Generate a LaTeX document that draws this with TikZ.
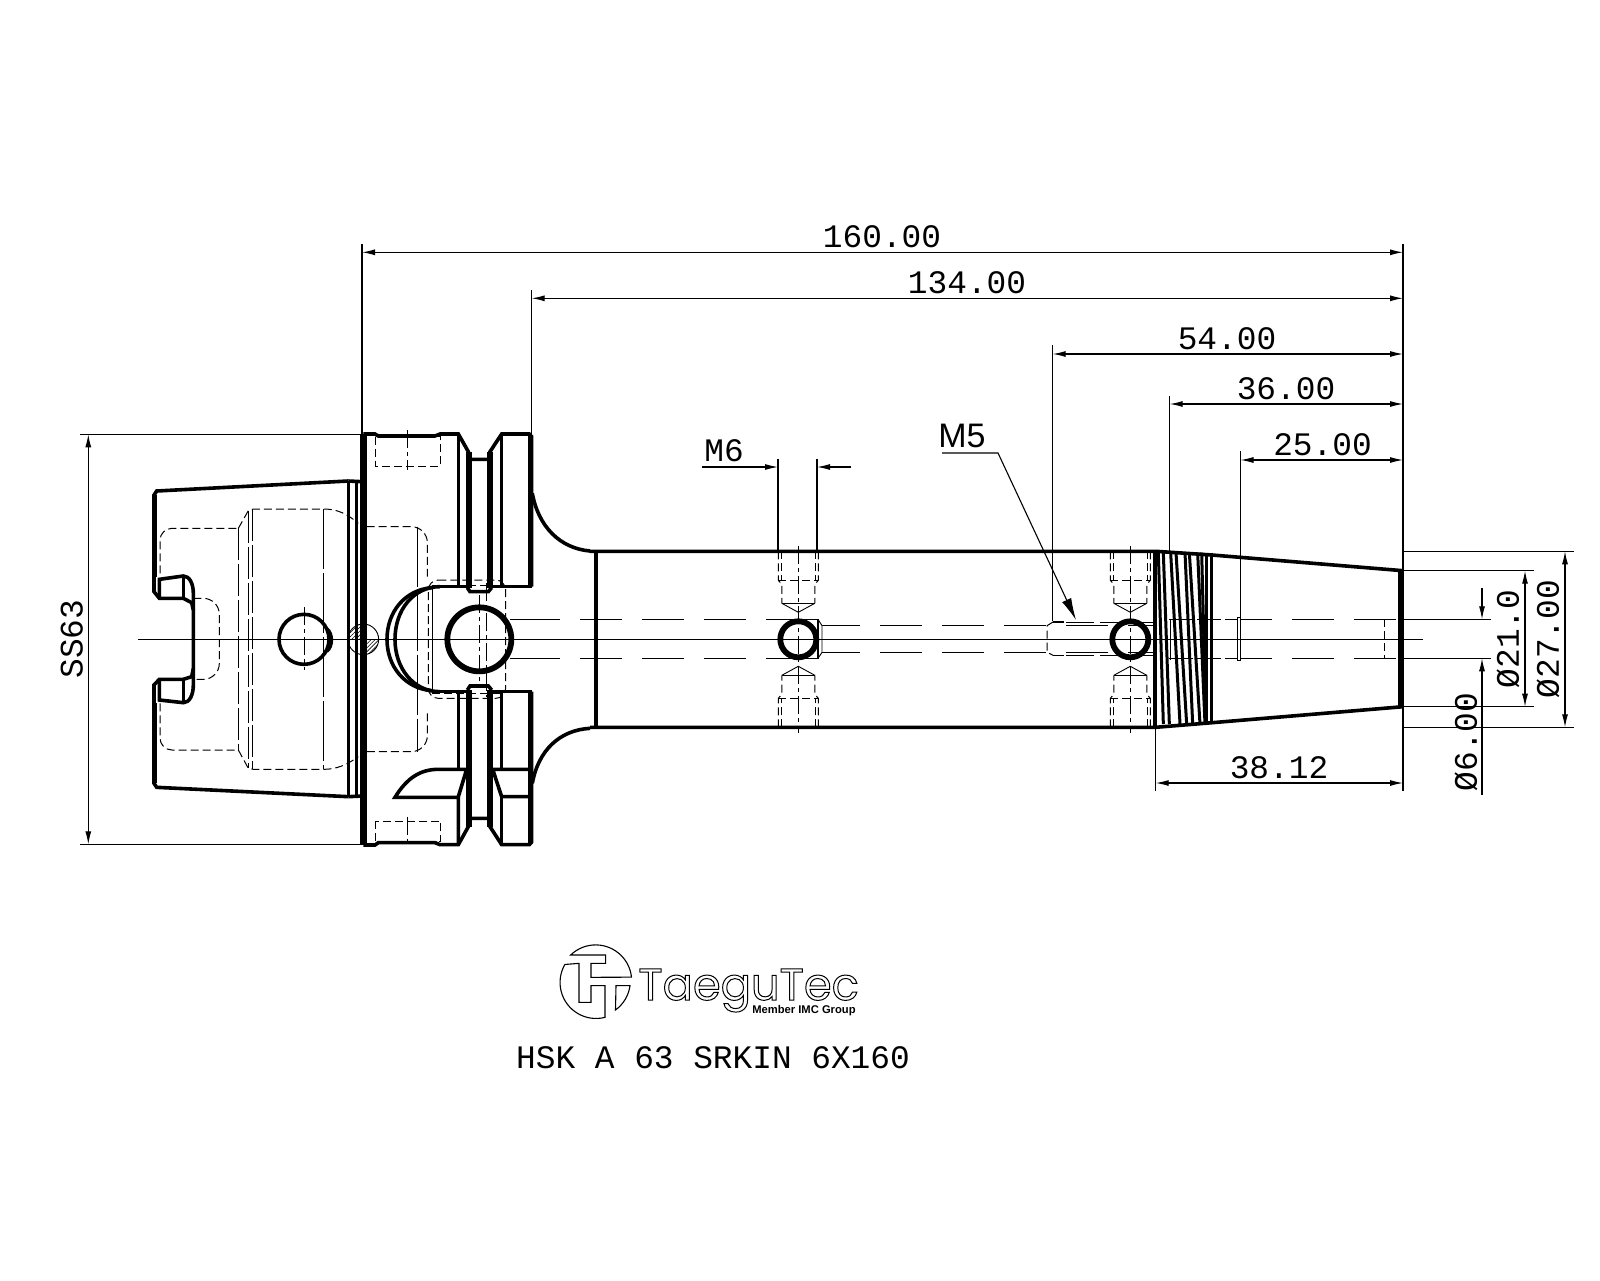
\documentclass[tikz,border=0pt]{standalone}
\usepackage{fontspec}
\setmainfont{Liberation Mono}
\newfontfamily\logofont{Poppins}
\newfontfamily\tagfont{Liberation Sans}
\usetikzlibrary{arrows.meta,patterns.meta}

\tikzset{
    thinline/.style={line width=0.55pt},
    faintline/.style={line width=0.45pt},
    heavyline/.style={line width=1.8pt},
    thickline/.style={line width=2.9pt},
    hiddenline/.style={line width=0.5pt, dash pattern=on 4pt off 2pt},
    longdash/.style={line width=0.55pt, dash pattern=on 21pt off 10pt},
    axisline/.style={line width=0.5pt, dash pattern=on 9pt off 2pt on 2pt off 2pt},
    dimline/.style={line width=0.55pt},
    dimboth/.style={dimline, {Latex[length=6.5pt,width=3pt]}-{Latex[length=6.5pt,width=3pt]}},
    dimend/.style={dimline, -{Latex[length=6.5pt,width=3pt]}},
    dimtext/.style={inner sep=0pt, font=\fontsize{16.4}{18}\selectfont}
}

\begin{document}
\begin{tikzpicture}[x=0.5pt,y=-0.5pt]
    \useasboundingbox (0,0) rectangle (1600,1280);

    \coordinate (L) at (362,252.3);
    \coordinate (R) at (1403,252.3);

    % centre line and bores
    \draw[thinline] (138,639.3) -- (1423,639.3);
    \foreach \by in {619.3,658.3}{
        \draw[longdash] (518,\by) -- (778,\by);
        \draw[longdash, dash phase=5pt] (1240,\by) -- (1403,\by);
        \draw[thinline] (510,\by) -- (518,\by);
        \draw[thinline] (1403,\by) -- (1491,\by);
        \draw[hiddenline, dash pattern=on 12pt off 2pt] (1169,\by) -- (1237,\by);
    }
    \draw[thinline] (778,619.3) -- (818,619.3) -- (818,658.3) -- (778,658.3);
    \draw[faintline] (818,619.3) -- (822,625.7) -- (822,652.3) -- (818,658.3);
    \foreach \by in {625.7,652.3}{
        \draw[longdash, dash phase=2pt] (822,\by) -- (1047,\by);
        \draw[longdash] (1066,\by) -- (1155,\by);
    }
    \draw[hiddenline] (1053,622) -- (1047,625.7) -- (1047,652.3) -- (1053,655.3);
    \draw[thinline] (1053,622) -- (1064,622);
    \draw[thinline] (1053,655.3) -- (1064,655.3);
    \draw[hiddenline, dash pattern=on 14pt off 3pt] (1066,622) -- (1155,622);
    \draw[hiddenline, dash pattern=on 14pt off 3pt] (1066,655.3) -- (1155,655.3);
    \draw[faintline] (1237,617) rectangle (1240,660);
    \draw[hiddenline] (1384,619.3) -- (1384,658.3);

    % radial holes
    \foreach \hx in {798.3,1130.3}{
        \foreach \sy in {1,-1}{
            \begin{scope}[shift={(\hx,639.3)}, yscale=\sy]
                \draw[hiddenline] (-20,-88) -- (-20,-59) -- (-16.5,-55) -- (-16.5,-36);
                \draw[hiddenline] (20,-88) -- (20,-59) -- (16.5,-55) -- (16.5,-36);
                \draw[hiddenline] (-17,-88) -- (-17,-59);
                \draw[hiddenline] (17,-88) -- (17,-59);
                \draw[hiddenline] (-20,-59) -- (20,-59);
                \draw[faintline] (-16.5,-36) -- (16.5,-36);
                \draw[faintline] (-16.5,-36) -- (0,-27) -- (16.5,-36);
            \end{scope}
        }
        \draw[axisline] (\hx,546) -- (\hx,733);
        \draw[thickline] (\hx,639.3) circle (18);
    }

    % spindle body and cone
    \coordinate (CT) at (1403,570.7);
    \coordinate (CB) at (1403,706.7);
    \draw[heavyline] (590,551.3) -- (1155.7,551.3) -- (1212,555) -- (CT);
    \draw[heavyline] (590,727.3) -- (1155.7,727.3) -- (1212,722.7) -- (CB);
    \draw[heavyline] (596,551.3) -- (596,727.3);
    \draw[line width=2.6pt] (1400.5,570.7) -- (1400.5,706.7);
    \begin{scope}[shift={(1130,540)}, scale=1/3]
        \draw[heavyline] (75,35) -- (75,560);
        \foreach \ta/\tb in {85/100,100/118,122/150,138/170,165/188,178/210,203/225,215/228,228/228,243/243}{
            \draw[line width=1.5pt] (\ta,38) -- (\tb,552);
        }
        \draw[faintline] (120,237) -- (120,360);
    \end{scope}

    % holder
    \begin{scope}[shift={(130,420)}, scale=1/3]
        % hidden
        \draw[hiddenline, rounded corners=6pt] (90,460) -- (90,325) -- (325,325);
        \draw[hiddenline, rounded corners=6pt] (90,850) -- (90,990) -- (325,990);
        \draw[hiddenline] (325,325) -- (355,272) -- (370,267) -- (580,267) .. controls (620,267) and (650,280) .. (685,310);
        \draw[hiddenline] (325,990) -- (355,1045) -- (370,1048) -- (580,1048) .. controls (620,1048) and (650,1035) .. (685,1010);
        \draw[hiddenline, dash pattern=on 16pt off 2pt] (325,325) -- (325,990);
        \draw[hiddenline, dash pattern=on 16pt off 2pt] (355,272) -- (355,1045);
        \draw[hiddenline, dash pattern=on 16pt off 2pt] (368,267) -- (368,1048);
        \draw[hiddenline, dash pattern=on 30pt off 2pt] (581,267) -- (581,1048);
        \draw[hiddenline, rounded corners=8pt] (190,535) -- (268,535) -- (268,778) -- (190,778);
        \draw[hiddenline, rounded corners=8pt] (710,320) -- (892,320) -- (892,470);
        \draw[hiddenline, rounded corners=8pt] (892,880) -- (892,995) -- (710,995);
        \draw[hiddenline, dash pattern=on 30pt off 2pt] (862,320) -- (862,995);
        \draw[hiddenline] (737,50) rectangle (932,138);
        \draw[hiddenline] (737,1203) rectangle (932,1265);
        \draw[axisline] (832,30) -- (832,150);
        \draw[axisline] (832,1190) -- (832,1280);
        \draw[hiddenline, rounded corners=5pt] (895,480) -- (1127,480) -- (1127,835) -- (895,835) -- cycle;
        \draw[hiddenline] (907,495) -- (1110,495);
        \draw[hiddenline] (907,820) -- (1110,820);
        \draw[faintline] (907,495) -- (907,820);
        \draw[axisline] (1048,525) -- (1048,790);
        \draw[axisline] (1068,490) -- (1068,830);
        % taper
        \draw[heavyline] (655,183) -- (80,213) -- (72,225) -- (72,515) -- (88,535) -- (160,535) -- (185,548) -- (190,570) -- (190,745) -- (185,770) -- (160,778) -- (88,778) -- (72,795) -- (72,1090) -- (80,1102) -- (655,1130);
        \draw[line width=2.6pt] (74,225) -- (74,470);
        \draw[line width=2.6pt] (74,850) -- (74,1090);
        \draw[heavyline] (88,535) -- (88,478) -- (160,468) .. controls (178,468) and (190,490) .. (190,520) -- (190,570);
        \draw[heavyline] (88,778) -- (88,840) -- (160,848) .. controls (178,848) and (190,826) .. (190,795) -- (190,745);
        \draw[heavyline] (160,468) -- (160,535);
        \draw[heavyline] (160,778) -- (160,848);
        \draw[heavyline] (655,183) -- (655,1130);
        \draw[heavyline] (680,185) -- (680,1128);
        \draw[heavyline] (655,183) -- (695,185);
        \draw[heavyline] (655,1130) -- (695,1128);
        % flange
        \draw[line width=3.5pt] (700,42) -- (700,1275);
        \draw[heavyline] (700,42) -- (735,42) -- (745,48) -- (915,48) -- (930,42) -- (985,42) -- (1015,95) -- (1015,118) -- (1080,118) -- (1080,95) -- (1115,42) -- (1198,42) -- (1205,50) -- (1205,500);
        \draw[heavyline] (700,1275) -- (735,1275) -- (745,1268) -- (915,1268) -- (930,1274) -- (985,1274) -- (1015,1220) -- (1015,1195) -- (1080,1195) -- (1080,1220) -- (1115,1274) -- (1198,1274) -- (1205,1266) -- (1205,815);
        \draw[heavyline] (985,42) -- (985,500);
        \draw[thickline] (1018,95) -- (1018,505);
        \draw[thickline] (1080,95) -- (1080,505);
        \draw[heavyline] (1115,42) -- (1115,500);
        \draw[heavyline] (1198,42) -- (1198,500);
        \draw[heavyline] (930,500) -- (1012,500);
        \draw[heavyline] (1085,500) -- (1205,500);
        \draw[heavyline] (930,815) -- (1012,815);
        \draw[heavyline] (1085,815) -- (1205,815);
        \draw[heavyline] (1012,503) -- (1020,515) -- (1075,515) -- (1085,503);
        \draw[heavyline] (1012,810) -- (1020,798) -- (1075,798) -- (1085,810);
        \draw[thickline] (1018,810) -- (1018,1220);
        \draw[thickline] (1080,810) -- (1080,1220);
        \draw[heavyline] (985,815) -- (985,1048);
        \draw[heavyline] (1115,815) -- (1115,1048);
        \draw[heavyline] (1198,815) -- (1198,1048);
        % slot
        \draw[heavyline] (930,500) .. controls (850,500) and (795,570) .. (795,658) .. controls (795,745) and (850,815) .. (930,815);
        \draw[heavyline] (905,503) .. controls (825,510) and (771,575) .. (771,658) .. controls (771,740) and (825,805) .. (905,812);
        % wedge
        \draw[heavyline] (985,1132) -- (795,1132) .. controls (830,1075) and (870,1048) .. (925,1048) -- (1010,1048) -- (985,1130) -- (985,1274);
        \draw[heavyline] (1200,1048) -- (1088,1048) -- (1115,1130) -- (1200,1130);
        \draw[heavyline] (1115,1130) -- (1115,1274);
        \draw[heavyline] (1198,1048) -- (1198,1274);
        % holes
        \draw[heavyline] (522,658) circle (75);
        \draw[line width=1.5pt] (590,625) .. controls (610,640) and (610,680) .. (590,695);
        \draw[axisline] (522,562) -- (522,750);
        \draw[thickline] (1048,658) circle (96);
        % hatched plug
        \fill[pattern={Lines[angle=45,distance=1.4pt,line width=0.3pt]}] (700,658) -- (654,658) .. controls (654,632) and (674,612) .. (700,612) -- cycle;
        \fill[pattern={Lines[angle=45,distance=1.4pt,line width=0.3pt]}] (700,658) -- (746,658) .. controls (746,684) and (726,704) .. (700,704) -- cycle;
        \draw[faintline] (700,658) circle (46);
        % fillets
        \draw[heavyline] (1207,220) .. controls (1225,320) and (1290,385) .. (1380,393);
        \draw[heavyline] (1207,1090) .. controls (1225,990) and (1290,930) .. (1380,925);
    \end{scope}

    % dimensions
    \draw[dimline] (L) ++(0,-8) -- (362,434.3);
    \draw[dimline] (R) ++(0,-8) -- (1403,791);
    \draw[dimboth] (L) -- (R);
    \draw[dimline] (531.6,290) -- (531.6,434);
    \draw[dimboth] (531.6,298.3) -- (1403,298.3);
    \draw[dimline] (1052.7,345) -- (1052.7,621);
    \draw[dimboth] (1052.7,354) -- (1403,354);
    \draw[dimline] (1169.7,396) -- (1169.7,551);
    \draw[dimboth] (1169.7,404) -- (1403,404);
    \draw[dimline] (1240.5,451) -- (1240.5,619);
    \draw[dimboth] (1240.5,460) -- (1403,460);
    \draw[dimline] (1155.7,727) -- (1155.7,791);
    \draw[dimboth] (1155.7,783) -- (1403,783);

    \draw[dimline] (80,434.3) -- (362,434.3);
    \draw[dimline] (80,844.3) -- (362,844.3);
    \draw[dimboth] (88.3,434.3) -- (88.3,844.3);

    \draw[dimline] (1403,551.3) -- (1574,551.3);
    \draw[dimline] (1403,727.3) -- (1574,727.3);
    \draw[dimboth] (1565,551.3) -- (1565,727.3);
    \draw[dimline] (1403,570.7) -- (1534,570.7);
    \draw[dimline] (1403,706.7) -- (1534,706.7);
    \draw[dimboth] (1525,570.7) -- (1525,706.7);
    \draw[dimend] (1482,588) -- (1482,619.3);
    \draw[dimend] (1482,795) -- (1482,658.3);

    \draw[dimline] (778,459) -- (778,551);
    \draw[dimline] (817,459) -- (817,551);
    \draw[dimend] (702,467) -- (778,467);
    \draw[dimend] (851,467) -- (817,467);
    \draw[thinline, -{Latex[length=11pt,width=5pt]}] (942,453) -- (998,453) -- (1076,620);

    \node[dimtext] (len160) at (882,237) {160.00};
    \node[dimtext] (len134) at (967,283) {134.00};
    \node[dimtext] (len54) at (1227,339) {54.00};
    \node[dimtext] (len36) at (1286,389) {36.00};
    \node[dimtext] (len25) at (1322.5,445) {25.00};
    \node[dimtext] (len38) at (1279,768) {38.12};
    \node[dimtext] (labM6) at (724,451) {M6};
    \node[dimtext, font=\tagfont\fontsize{17}{19}\selectfont] (labM5) at (962,436) {M5};
    \node[dimtext, rotate=90] (labSS) at (71.7,639) {SS63};
    \node[dimtext, rotate=90] (dia27) at (1548,639) {Ø27.00};
    \node[dimtext, rotate=90] (dia21) at (1508,639) {Ø21.0};
    \node[dimtext, rotate=90] (dia6) at (1466,742) {Ø6.00};

    % logo
    \begin{scope}[shift={(555,940)}, scale=1/3]
        \draw[thinline] (47,45) arc (-134:-6:108) -- (108,112) -- (108,70) -- (152,70) -- (152,45) -- cycle;
        \draw[thinline] (150,232) arc (75.6:210:108) -- (72,70) -- (72,187) -- (108,187) -- (108,137) -- (150,137) -- cycle;
        \draw[thinline] (225,137) arc (7.7:54:108) -- (183,137) -- cycle;
    \end{scope}
    \node[inner sep=0pt, anchor=base west] (logoname) at (638,1000) {\logofont\fontsize{22.4}{25}\selectfont\special{pdf:code 1 Tr 0.5 w}TaeguTec\special{pdf:code 0 Tr}};
    \node[inner sep=0pt, anchor=east] (logotag) at (856,1011) {\tagfont\bfseries\fontsize{5.6}{6.5}\selectfont Member IMC Group};
    \node[dimtext] (title) at (713,1058) {HSK A 63 SRKIN 6X160};
\end{tikzpicture}
\end{document}
